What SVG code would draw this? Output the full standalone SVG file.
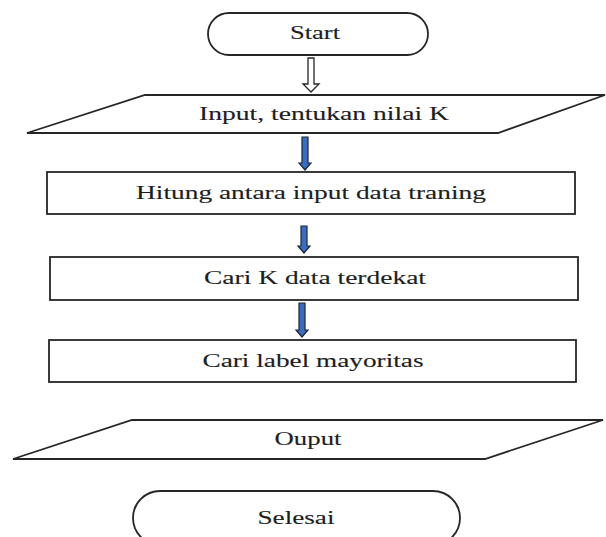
<svg xmlns="http://www.w3.org/2000/svg" width="606" height="537" viewBox="0 0 606 537">
  <style>
    .shape { fill: #ffffff; stroke: #262626; stroke-width: 1.8; }
    .lbl { font-family: "Liberation Serif", "Times New Roman", serif; font-size: 19px; fill: #1e1e1e; stroke: #1e1e1e; stroke-width: 0.12; text-anchor: middle; }
    .hollow { fill: #ffffff; stroke: #262626; stroke-width: 1.3; }
    .blue { fill: #3b6cc0; stroke: #1c2636; stroke-width: 1.2; }
  </style>
  <rect width="606" height="537" fill="#ffffff"/>

  <g id="connectors">
    <polygon class="hollow" points="308,58 314,58 314,84 319,84 311,92 303,84 308,84"/>
    <polygon class="blue" points="302,137 308,137 308,163 311,163 305,170 299,163 302,163"/>
    <polygon class="blue" points="301,226 307,226 307,246 310,246 304,253 298,246 301,246"/>
    <polygon class="blue" points="299,303 305,303 305,330 308,330 302,337 296,330 299,330"/>
  </g>

  <g id="start">
    <rect class="shape" x="208" y="13" width="220" height="42" rx="21" ry="21"/>
    <text class="lbl" x="315" y="39" textLength="50" lengthAdjust="spacingAndGlyphs">Start</text>
  </g>

  <g id="input">
    <polygon class="shape" points="145,95 605,95 498,133 27,133"/>
    <text class="lbl" x="324" y="120" textLength="250" lengthAdjust="spacingAndGlyphs">Input, tentukan nilai K</text>
  </g>

  <g id="hitung">
    <rect class="shape" x="47" y="172" width="528" height="42"/>
    <text class="lbl" x="311" y="199" textLength="350" lengthAdjust="spacingAndGlyphs">Hitung antara input data traning</text>
  </g>

  <g id="cari-k">
    <rect class="shape" x="50" y="257" width="528" height="43"/>
    <text class="lbl" x="315" y="284" textLength="222" lengthAdjust="spacingAndGlyphs">Cari K data terdekat</text>
  </g>

  <g id="cari-label">
    <rect class="shape" x="49" y="340" width="527" height="42"/>
    <text class="lbl" x="313" y="367" textLength="221" lengthAdjust="spacingAndGlyphs">Cari label mayoritas</text>
  </g>

  <g id="output">
    <polygon class="shape" points="132,420 603,420 485,459 13,459"/>
    <text class="lbl" x="308" y="445" textLength="67" lengthAdjust="spacingAndGlyphs">Ouput</text>
  </g>

  <g id="selesai">
    <rect class="shape" x="133" y="491" width="327" height="54" rx="27" ry="27"/>
    <text class="lbl" x="296" y="524" textLength="77" lengthAdjust="spacingAndGlyphs">Selesai</text>
  </g>
</svg>
